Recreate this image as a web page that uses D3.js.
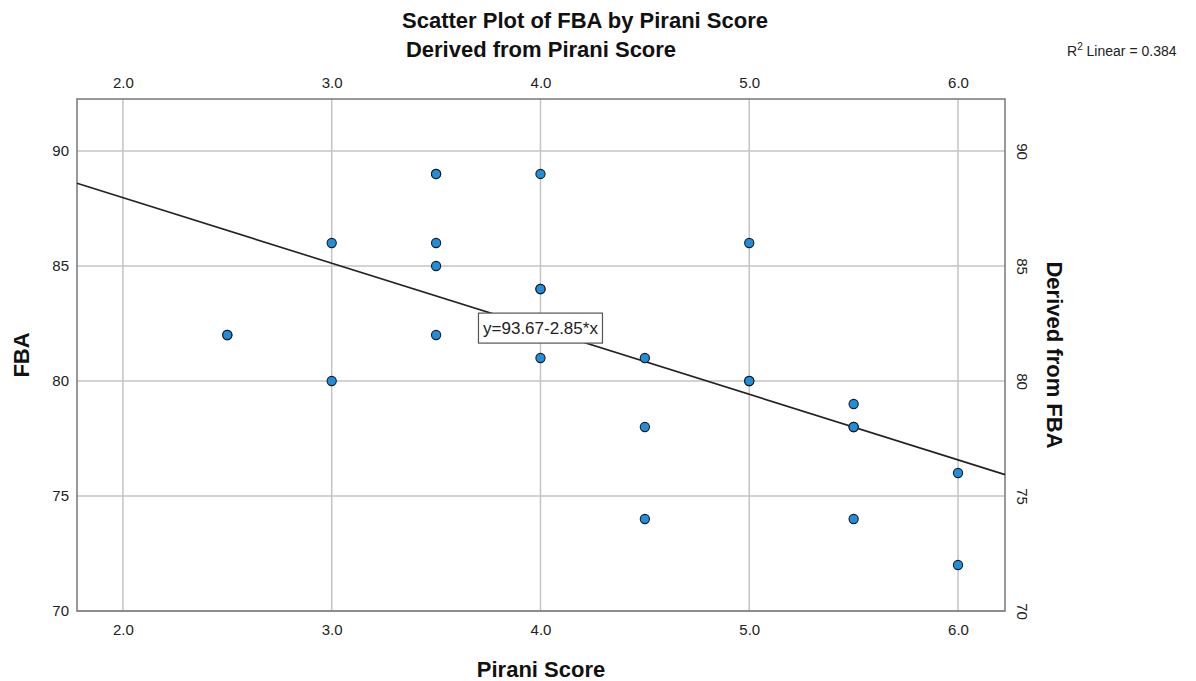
<!DOCTYPE html>
<html>
<head>
<meta charset="utf-8">
<script src="https://cdn.jsdelivr.net/npm/d3@7"></script>
<style>
body { margin: 0; background: #fff; font-family: "Liberation Sans", Arial, sans-serif; }
.tick text { fill: #222; font-size: 15px; }
</style>
</head>
<body>
<svg id="chart" width="1196" height="681"></svg>
<script>
// data
var pirani = [2.5, 2.5, 3.0, 3.0, 3.5, 3.5, 3.5, 3.5, 3.5, 4.0, 4.0, 4.0, 4.0, 4.5, 4.5, 4.5, 5.0, 5.0, 5.0, 5.5, 5.5, 5.5, 5.5, 6.0, 6.0];
var fba    = [82,  82,  86,  80,  89,  89,  86,  85,  82,  89,  84,  84,  81,  81,  78,  74,  86,  80,  80,  79,  78,  78,  74,  76,  72];
var xTicks = [2.0, 3.0, 4.0, 5.0, 6.0];
var yTicks = [70, 75, 80, 85, 90];
var fitA = 93.67, fitB = -2.85;
var fitLabel = 'y=93.67-2.85*x';
var r2Label = '0.384';

var svg = d3.select('#chart');
var m = {left: 77, right: 1005, top: 99, bottom: 611};

var x = d3.scaleLinear().domain([1.78, 6.225]).range([m.left, m.right]);
var y = d3.scaleLinear().domain([70, 92.26]).range([m.bottom, m.top]);

// grid
var grid = svg.append('g');
grid.selectAll('.vg').data(xTicks).enter().append('line')
  .attr('x1', function(d) { return x(d); }).attr('x2', function(d) { return x(d); })
  .attr('y1', m.top).attr('y2', m.bottom)
  .style('stroke', '#c4c4c4').style('stroke-width', 1.5);
grid.selectAll('.hg').data(yTicks).enter().append('line')
  .attr('x1', m.left).attr('x2', m.right)
  .attr('y1', function(d) { return y(d); }).attr('y2', function(d) { return y(d); })
  .style('stroke', '#c4c4c4').style('stroke-width', 1.5);

// axes
var fmt = d3.format('.1f');
var bottomAx = svg.append('g').attr('transform', 'translate(0,' + m.bottom + ')')
  .call(d3.axisBottom(x).tickValues(xTicks).tickFormat(fmt).tickSize(0).tickPadding(13));
var topAx = svg.append('g').attr('transform', 'translate(0,' + m.top + ')')
  .call(d3.axisTop(x).tickValues(xTicks).tickFormat(fmt).tickSize(0).tickPadding(11));
var leftAx = svg.append('g').attr('transform', 'translate(' + m.left + ',0)')
  .call(d3.axisLeft(y).tickValues(yTicks).tickSize(0).tickPadding(8));
var rightAx = svg.append('g').attr('transform', 'translate(' + m.right + ',0)')
  .call(d3.axisRight(y).tickValues(yTicks).tickSize(0).tickPadding(0));
rightAx.selectAll('.tick text')
  .attr('x', 0).attr('dy', 0)
  .attr('text-anchor', 'middle')
  .attr('transform', 'translate(12,0) rotate(90)');
[bottomAx, topAx, leftAx, rightAx].forEach(function(a) {
  a.select('.domain').remove();
  a.selectAll('text').style('font-family', '"Liberation Sans", Arial, sans-serif');
});

// frame
svg.append('rect').attr('x', m.left).attr('y', m.top)
  .attr('width', m.right - m.left).attr('height', m.bottom - m.top)
  .style('fill', 'none').style('stroke', '#777').style('stroke-width', 1.5);

// fit line
var x0 = x.domain()[0], x1 = x.domain()[1];
svg.append('line')
  .attr('x1', x(x0)).attr('y1', y(fitA + fitB * x0))
  .attr('x2', x(x1)).attr('y2', y(fitA + fitB * x1))
  .style('stroke', '#222').style('stroke-width', 1.6);

// points
svg.append('g').selectAll('circle').data(pirani).enter().append('circle')
  .attr('cx', function(d) { return x(d); })
  .attr('cy', function(d, i) { return y(fba[i]); })
  .attr('r', 4.6)
  .style('fill', '#1e8ee0').style('stroke', '#1a1a1a').style('stroke-width', 1.1);

// fit label
var lbl = svg.append('g').attr('transform', 'translate(' + x(4.0) + ',' + y(82.3) + ')');
lbl.append('rect').attr('x', -62).attr('y', -15).attr('width', 124).attr('height', 30)
  .style('fill', '#fff').style('stroke', '#555').style('stroke-width', 1.2);
lbl.append('text').attr('text-anchor', 'middle').attr('dy', '0.36em')
  .style('font-size', '17px').style('fill', '#222').text(fitLabel);

// titles
svg.append('text').attr('x', 585).attr('y', 28).attr('text-anchor', 'middle')
  .style('font-size', '22px').style('font-weight', 'bold').style('fill', '#111')
  .text('Scatter Plot of FBA by Pirani Score');
svg.append('text').attr('x', (m.left + m.right) / 2).attr('y', 57).attr('text-anchor', 'middle')
  .style('font-size', '22px').style('font-weight', 'bold').style('fill', '#111')
  .text('Derived from Pirani Score');
svg.append('text').attr('x', (m.left + m.right) / 2).attr('y', 677).attr('text-anchor', 'middle')
  .style('font-size', '22px').style('font-weight', 'bold').style('fill', '#111')
  .text('Pirani Score');
svg.append('text').attr('transform', 'translate(29,' + ((m.top + m.bottom) / 2) + ') rotate(-90)')
  .attr('text-anchor', 'middle')
  .style('font-size', '22px').style('font-weight', 'bold').style('fill', '#111')
  .text('FBA');
svg.append('text').attr('transform', 'translate(1047,' + ((m.top + m.bottom) / 2) + ') rotate(90)')
  .attr('text-anchor', 'middle')
  .style('font-size', '22px').style('font-weight', 'bold').style('fill', '#111')
  .text('Derived from FBA');

// R squared
var r2 = svg.append('text').attr('x', 1067).attr('y', 56)
  .style('font-size', '14px').style('fill', '#222');
r2.append('tspan').text('R');
r2.append('tspan').attr('dy', -6).style('font-size', '10px').text('2');
r2.append('tspan').attr('dy', 6).text(' Linear = ' + r2Label);
</script>
</body>
</html>
